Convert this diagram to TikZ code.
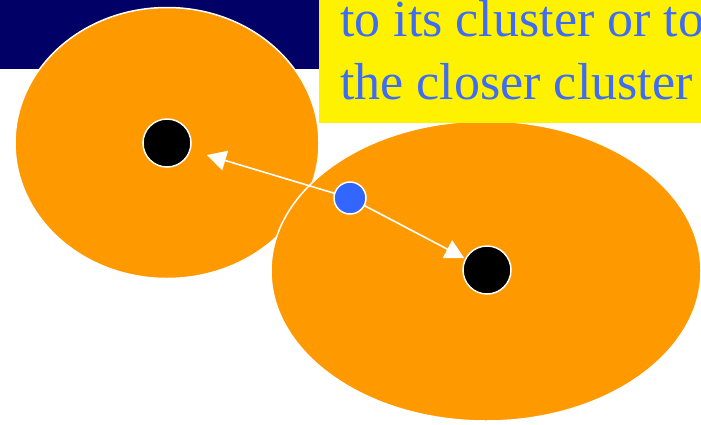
\documentclass[tikz,border=0pt]{standalone}
\usepackage{fontspec}
\setmainfont{Liberation Serif}
\usetikzlibrary{arrows.meta, positioning, shapes.geometric}

\definecolor{navyband}{HTML}{000066}
\definecolor{clusterorange}{HTML}{FF9900}
\definecolor{pointblue}{HTML}{3366FF}
\definecolor{textblue}{HTML}{3F6CF5}

\begin{document}
\begin{tikzpicture}[
            x=1pt, y=-1pt,
            cluster/.style={
                    ellipse,
                    draw=white,
                    line width=1.5pt,
                    fill=clusterorange,
                    inner sep=0pt
                },
            centroid/.style={
                    circle,
                    draw=white,
                    line width=1.5pt,
                    fill=black,
                    minimum size=48pt,
                    inner sep=0pt
                },
            point/.style={
                    circle,
                    draw=white,
                    line width=1.5pt,
                    fill=pointblue,
                    minimum size=32pt,
                    inner sep=0pt
                },
            note/.style={
                    fill=yellow,
                    align=left,
                    inner xsep=21pt,
                    inner ysep=0pt,
                    text depth=24pt,
                    text=textblue,
                    font=\fontsize{52}{63}\selectfont
                },
            arrow/.style={
                    -{Triangle[length=19pt,width=20pt]},
                    line width=1.6pt,
                    white
                }
        ]

        \clip (0,0) rectangle (701,424);

        \fill[navyband] (0,0) rectangle (319,69);

        \node[cluster, minimum width=304pt, minimum height=271pt] (cluster1) at (167,143) {};
        \node[cluster, minimum width=430pt, minimum height=300pt] (cluster2) at (486,271) {};

        \node[note, anchor=north west] (note) at (319,0)
        {
            to its cluster or to\\
            the closer cluster
        };

        \node[centroid] (c1) at (167,143) {};
        \node[centroid] (c2) at (487,270) {};

        \draw[arrow, shorten >=17pt] (350,198) -- (c1);
        \draw[arrow, shorten <=6pt, shorten >=1pt] (350,198) -- (c2);

        \node[point] (x) at (350,198) {};

    \end{tikzpicture}
\end{document}
